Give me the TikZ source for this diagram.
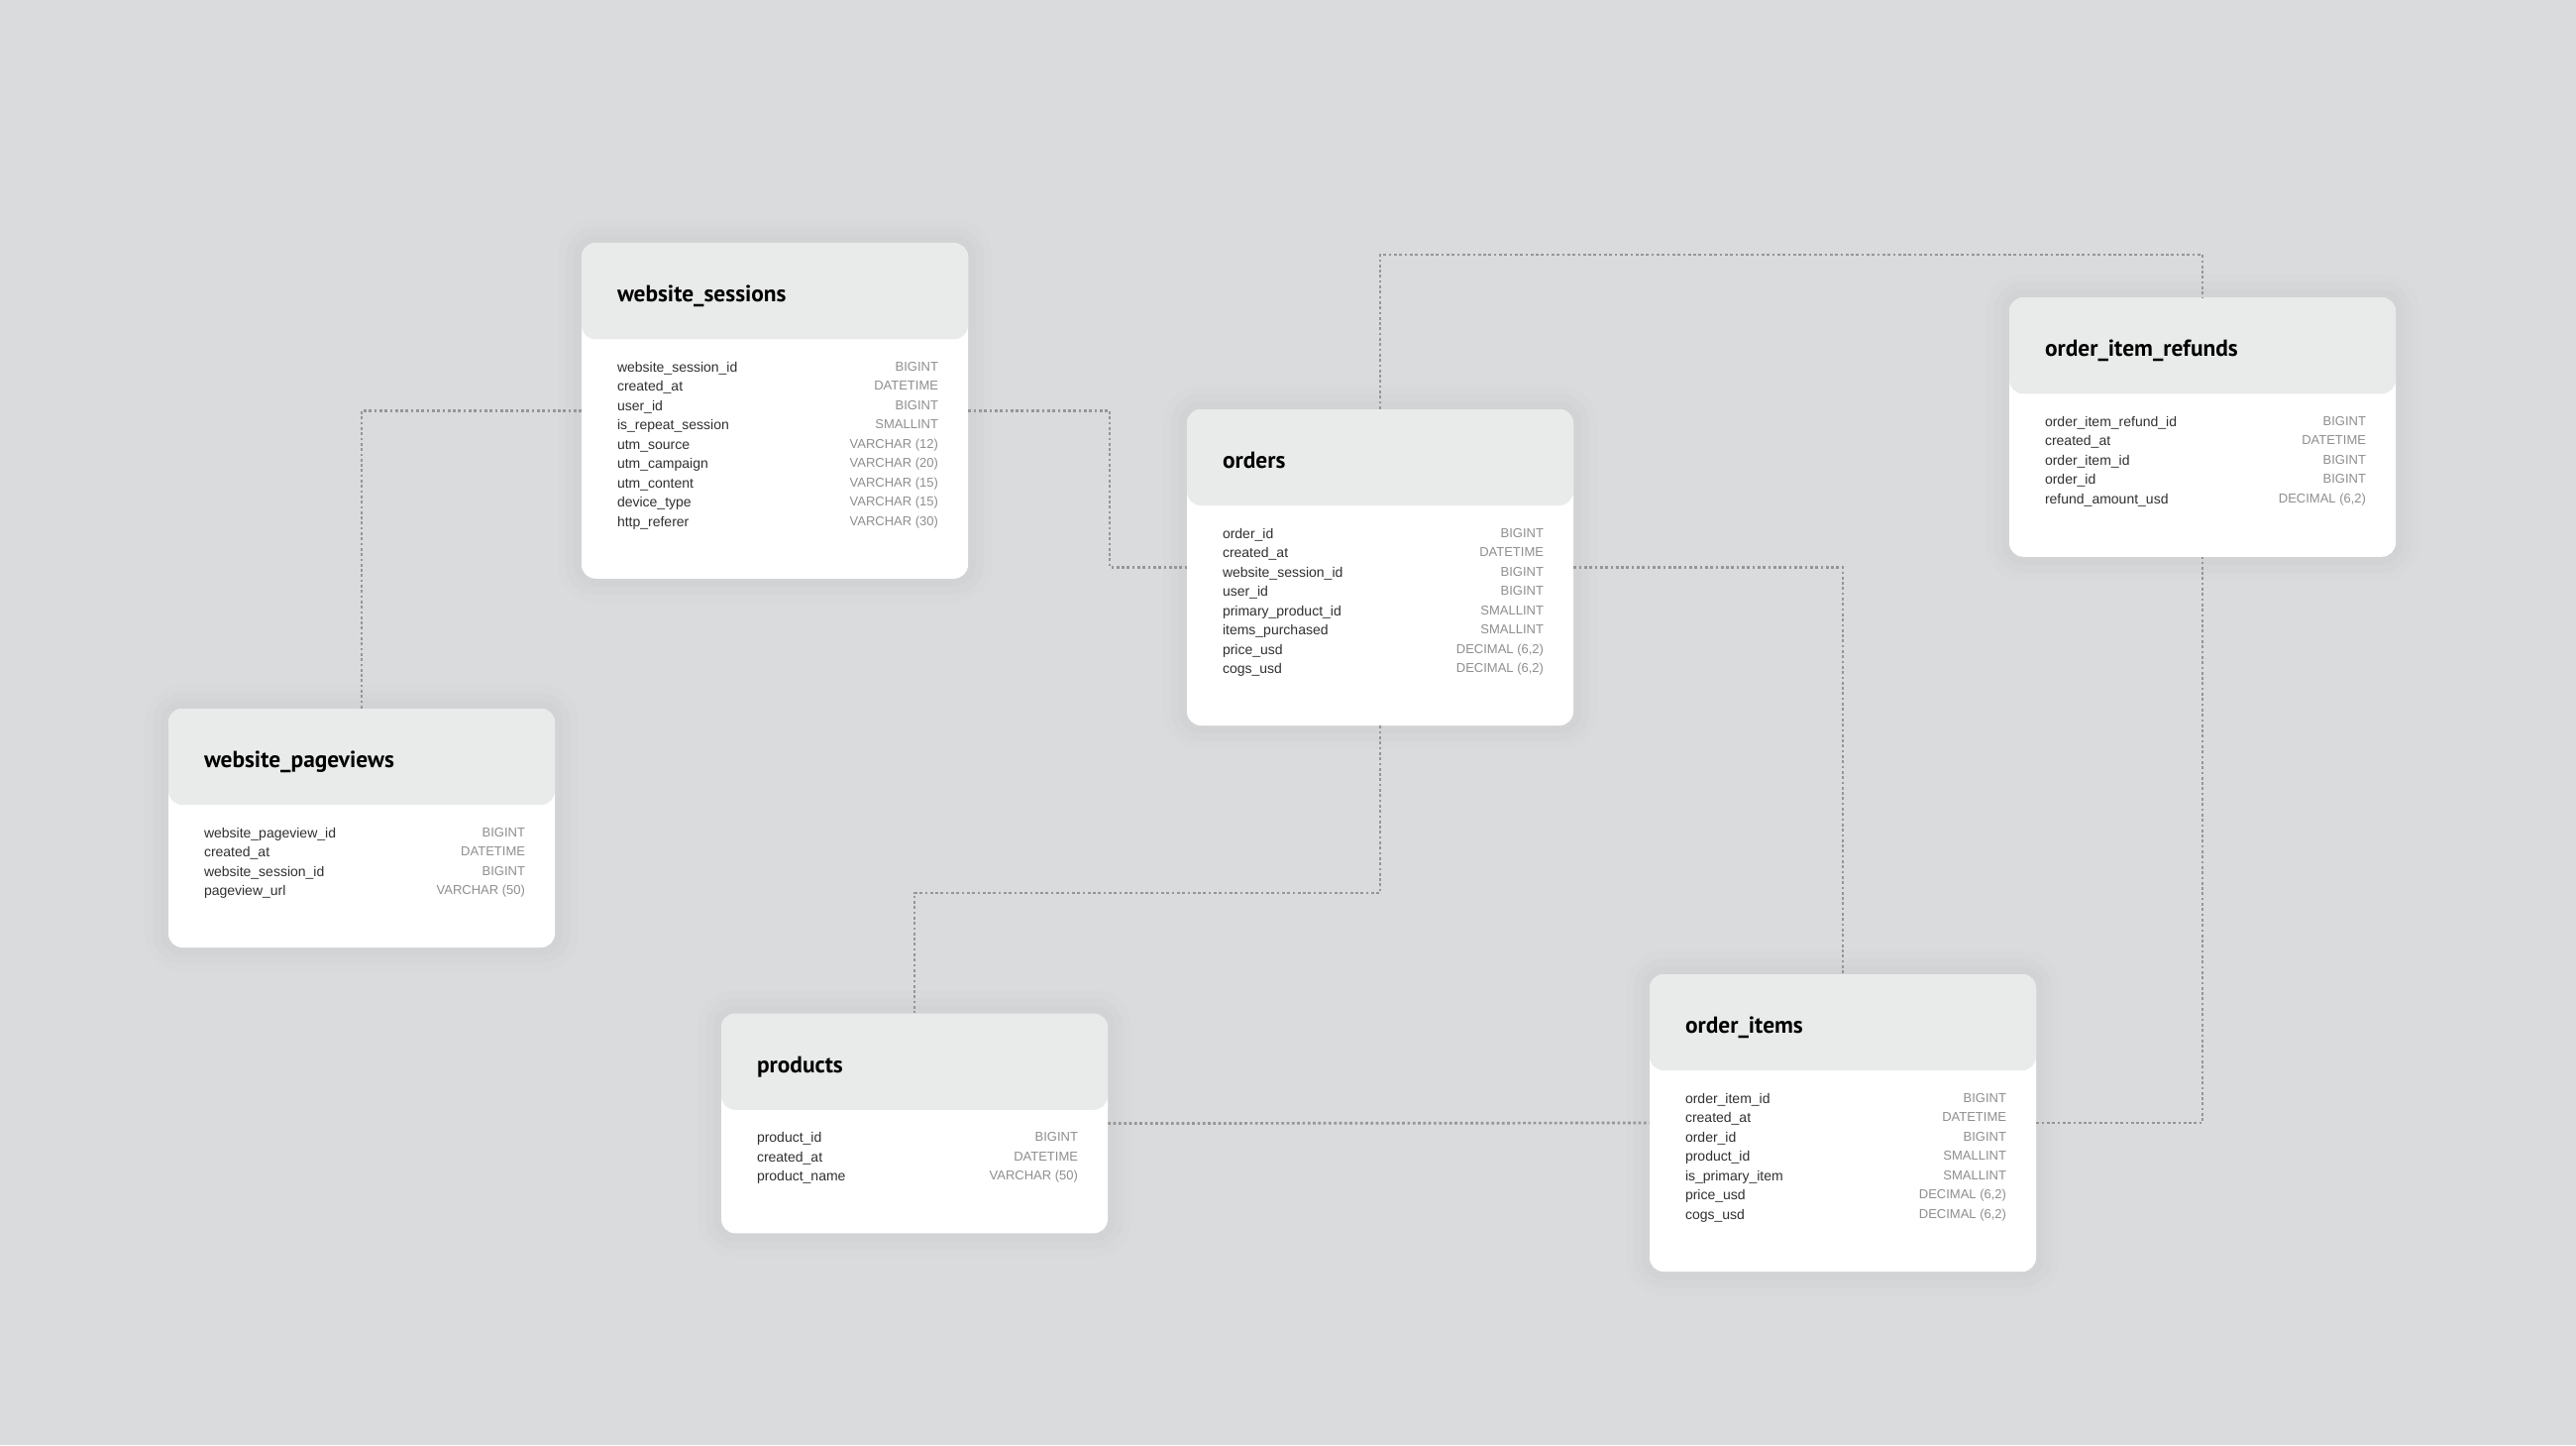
\documentclass[tikz,border=0pt]{standalone}
\usepackage{fontspec}
\setmainfont{Liberation Sans}
\newfontfamily\titlefont{PT Sans}

\definecolor{bgcol}{HTML}{DADBDD}
\definecolor{headcol}{HTML}{E9EAEA}
\definecolor{fieldcol}{HTML}{303030}
\definecolor{typecol}{HTML}{8E8E8E}
\definecolor{linkcol}{HTML}{969696}

\tikzset{
  dbtable/.style={rectangle, rounded corners=7pt, fill=white, inner sep=0pt,
    minimum width=195pt,
    preaction={draw=black, opacity=0.008, line width=24pt},
    preaction={draw=black, opacity=0.01, line width=16pt},
    preaction={draw=black, opacity=0.012, line width=8pt},
    path picture={\fill[headcol] (path picture bounding box.north west)
      rectangle ([yshift=-48.5pt]path picture bounding box.north east);}},
  tabtitle/.style={inner sep=0pt, text=black, font=\titlefont\bfseries\fontsize{11.7}{14}\selectfont},
  fields/.style={inner sep=0pt, align=left, text=fieldcol, font=\fontsize{7}{9.75}\selectfont},
  types/.style={inner sep=0pt, align=right, text=typecol, font=\fontsize{6.5}{9.75}\selectfont},
  link/.style={draw=linkcol, line width=1.35pt, dash pattern=on 1.35pt off 1.3pt}
}

\begin{document}
\begin{tikzpicture}[x=0.5pt, y=-0.5pt]
% Background
\useasboundingbox (0,0) rectangle (2600,1458);
\fill[bgcol] (0,0) rectangle (2600,1458);

% Tables
\node[dbtable, minimum height=169.25pt] (sessions) at (782,414.5) {};
\node[tabtitle, anchor=base west] (sessions title) at ([xshift=18pt,yshift=-30pt]sessions.north west) {website\_sessions};
\node[fields, anchor=north west] (sessions fields) at ([xshift=18pt,yshift=-60pt]sessions.north west)
  {website\_session\_id\\created\_at\\user\_id\\is\_repeat\_session\\utm\_source\\utm\_campaign\\utm\_content\\device\_type\\http\_referer};
\node[types, anchor=north east] (sessions types) at ([xshift=-15pt,yshift=-60pt]sessions.north east)
  {BIGINT\\DATETIME\\BIGINT\\SMALLINT\\VARCHAR (12)\\VARCHAR (20)\\VARCHAR (15)\\VARCHAR (15)\\VARCHAR (30)};

\node[dbtable, minimum height=159.5pt] (orders) at (1393,572.5) {};
\node[tabtitle, anchor=base west] (orders title) at ([xshift=18pt,yshift=-30pt]orders.north west) {orders};
\node[fields, anchor=north west] (orders fields) at ([xshift=18pt,yshift=-60pt]orders.north west)
  {order\_id\\created\_at\\website\_session\_id\\user\_id\\primary\_product\_id\\items\_purchased\\price\_usd\\cogs\_usd};
\node[types, anchor=north east] (orders types) at ([xshift=-15pt,yshift=-60pt]orders.north east)
  {BIGINT\\DATETIME\\BIGINT\\BIGINT\\SMALLINT\\SMALLINT\\DECIMAL (6,2)\\DECIMAL (6,2)};

\node[dbtable, minimum height=130.75pt] (refunds) at (2223,431) {};
\node[tabtitle, anchor=base west] (refunds title) at ([xshift=18pt,yshift=-30pt]refunds.north west) {order\_item\_refunds};
\node[fields, anchor=north west] (refunds fields) at ([xshift=18pt,yshift=-60pt]refunds.north west)
  {order\_item\_refund\_id\\created\_at\\order\_item\_id\\order\_id\\refund\_amount\_usd};
\node[types, anchor=north east] (refunds types) at ([xshift=-15pt,yshift=-60pt]refunds.north east)
  {BIGINT\\DATETIME\\BIGINT\\BIGINT\\DECIMAL (6,2)};

\node[dbtable, minimum height=120.5pt] (pageviews) at (365,835.5) {};
\node[tabtitle, anchor=base west] (pageviews title) at ([xshift=18pt,yshift=-30pt]pageviews.north west) {website\_pageviews};
\node[fields, anchor=north west] (pageviews fields) at ([xshift=18pt,yshift=-60pt]pageviews.north west)
  {website\_pageview\_id\\created\_at\\website\_session\_id\\pageview\_url};
\node[types, anchor=north east] (pageviews types) at ([xshift=-15pt,yshift=-60pt]pageviews.north east)
  {BIGINT\\DATETIME\\BIGINT\\VARCHAR (50)};

\node[dbtable, minimum height=110.75pt] (products) at (923,1133.5) {};
\node[tabtitle, anchor=base west] (products title) at ([xshift=18pt,yshift=-30pt]products.north west) {products};
\node[fields, anchor=north west] (products fields) at ([xshift=18pt,yshift=-60pt]products.north west)
  {product\_id\\created\_at\\product\_name};
\node[types, anchor=north east] (products types) at ([xshift=-15pt,yshift=-60pt]products.north east)
  {BIGINT\\DATETIME\\VARCHAR (50)};

\node[dbtable, minimum height=150pt] (items) at (1860,1133) {};
\node[tabtitle, anchor=base west] (items title) at ([xshift=18pt,yshift=-30pt]items.north west) {order\_items};
\node[fields, anchor=north west] (items fields) at ([xshift=18pt,yshift=-60pt]items.north west)
  {order\_item\_id\\created\_at\\order\_id\\product\_id\\is\_primary\_item\\price\_usd\\cogs\_usd};
\node[types, anchor=north east] (items types) at ([xshift=-15pt,yshift=-60pt]items.north east)
  {BIGINT\\DATETIME\\BIGINT\\SMALLINT\\SMALLINT\\DECIMAL (6,2)\\DECIMAL (6,2)};

% Links
\coordinate (bend1) at (1120,490);
\coordinate (bend2) at (1800,257);
\coordinate (bend3) at (1150,901);
\draw[link] (pageviews.north) |- (sessions.west);
\draw[link] (sessions.east) -| (bend1) |- (orders.west);
\draw[link] (orders.north) |- (bend2) -| (refunds.north);
\draw[link] (orders.east) -| (items.north);
\draw[link] (orders.south) |- (bend3) -| (products.north);
\draw[link] (products.east) -- (items.west);
\draw[link] (items.east) -| (refunds.south);
\end{tikzpicture}
\end{document}
